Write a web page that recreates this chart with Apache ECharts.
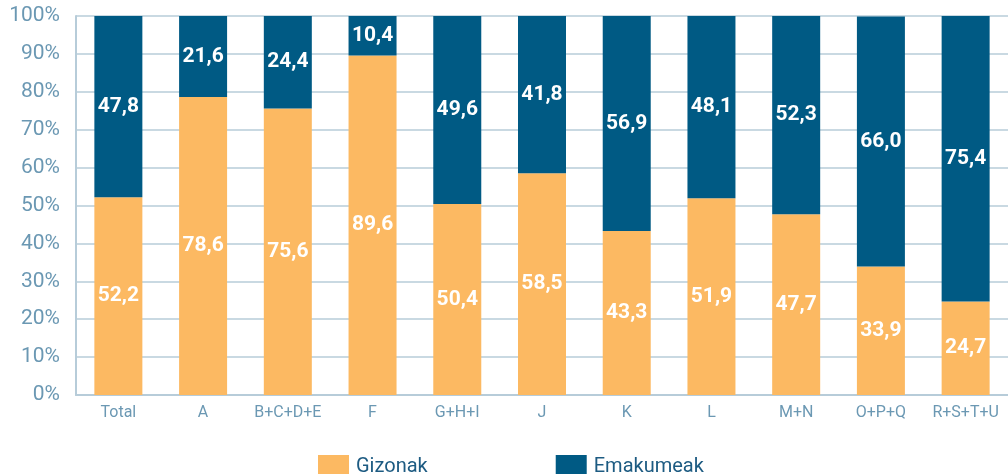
<!DOCTYPE html>
<html>
<head>
<meta charset="utf-8">
<script src="https://cdn.jsdelivr.net/npm/echarts@6/dist/echarts.min.js"></script>
<style>
    html, body { margin: 0; padding: 0; background: #fff; }
    #chart { width: 1008px; height: 474px; }
</style>
</head>
<body>
<div id="chart"></div>
<script>
    const categories = ['Total', 'A', 'B+C+D+E', 'F', 'G+H+I', 'J', 'K', 'L', 'M+N', 'O+P+Q', 'R+S+T+U'];
    const gizonak = [52.2, 78.6, 75.6, 89.6, 50.4, 58.5, 43.3, 51.9, 47.7, 33.9, 24.7];
    const emakumeak = [47.8, 21.6, 24.4, 10.4, 49.6, 41.8, 56.9, 48.1, 52.3, 66.0, 75.4];

    const font = '"Liberation Sans Narrow", "Roboto", sans-serif';
    const axisColor = '#b7ccd9';
    const labelColor = '#6b98b3';

    let chart = echarts.init(document.getElementById('chart'));
    chart.setOption({
        animation: false,
        textStyle: { fontFamily: font },
        grid: {
            left: 76,
            right: 0,
            top: 16,
            bottom: 79
        },
        legend: {
            top: 450,
            left: 313,
            itemWidth: 31,
            itemHeight: 24,
            itemGap: 128,
            icon: 'rect',
            textStyle: {
                fontFamily: font,
                fontSize: 20,
                color: '#1d5b82',
                padding: [0, 0, 0, 2]
            },
            data: ['Gizonak', 'Emakumeak']
        },
        xAxis: {
            type: 'category',
            data: categories,
            axisTick: { show: false },
            axisLine: { lineStyle: { color: axisColor, width: 2 } },
            axisLabel: {
                color: labelColor,
                fontSize: 16,
                fontFamily: font,
                margin: 10,
                interval: 0
            }
        },
        yAxis: {
            type: 'value',
            min: 0,
            max: 100,
            interval: 10,
            axisLine: { show: true, lineStyle: { color: axisColor, width: 2 } },
            axisTick: { show: false },
            splitLine: { lineStyle: { color: axisColor, width: 1.5 } },
            axisLabel: {
                formatter: '{value}%',
                color: labelColor,
                fontSize: 21,
                fontFamily: font,
                margin: 16
            }
        },
        series: [{
            name: 'Gizonak',
            type: 'bar',
            stack: 'total',
            data: gizonak,
            barWidth: 48,
            color: '#fcb962',
            label: {
                show: true,
                position: 'inside',
                color: '#fff',
                fontWeight: 'bold',
                fontSize: 21,
                fontFamily: font,
                formatter: p => p.value.toFixed(1).replace('.', ',')
            }
        }, {
            name: 'Emakumeak',
            type: 'bar',
            stack: 'total',
            data: emakumeak,
            barWidth: 48,
            color: '#005a84',
            label: {
                show: true,
                position: 'inside',
                color: '#fff',
                fontWeight: 'bold',
                fontSize: 21,
                fontFamily: font,
                formatter: p => p.value.toFixed(1).replace('.', ',')
            }
        }]
    });
</script>
</body>
</html>
